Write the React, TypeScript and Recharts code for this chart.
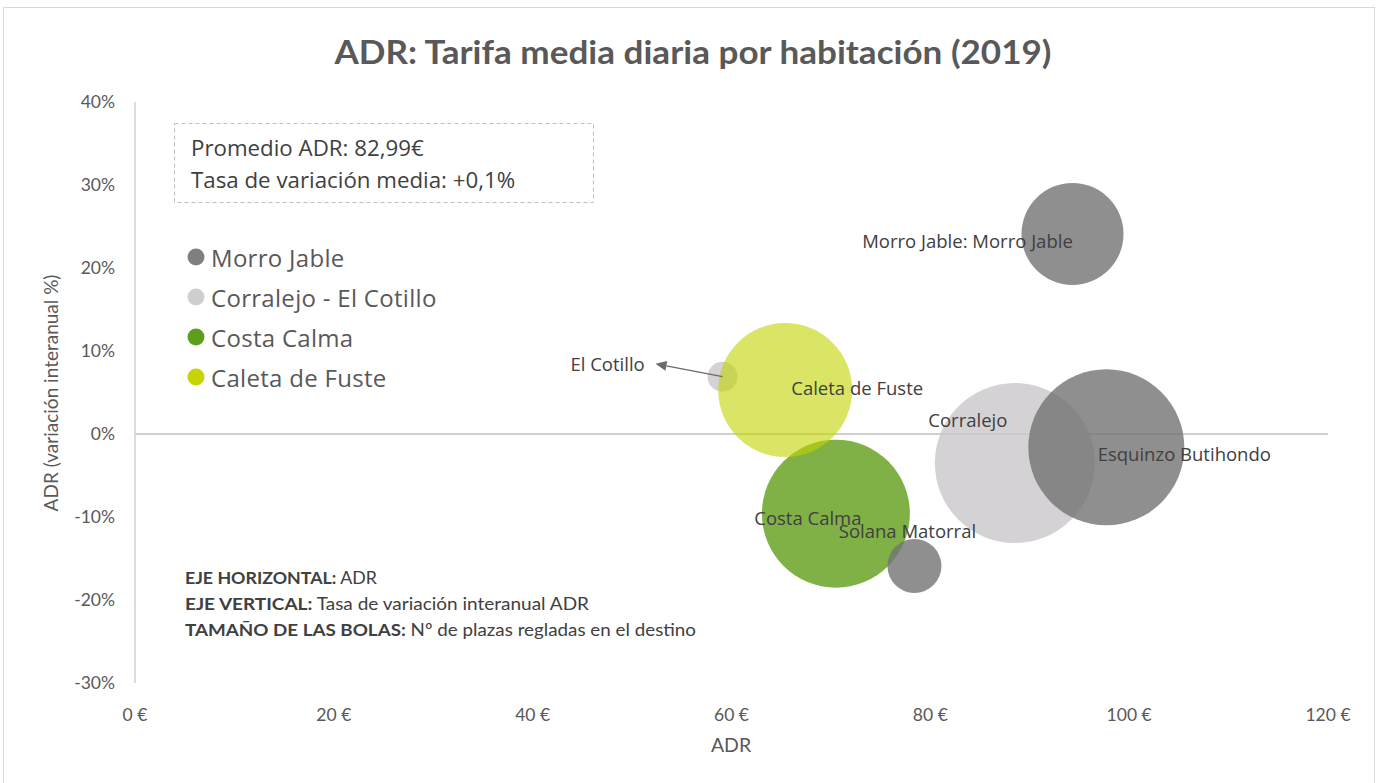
import React from 'react';
import { ScatterChart, Scatter, XAxis, YAxis, ZAxis, ReferenceLine } from 'recharts';

// ---- Data ----
const morroNames = ['Morro Jable', 'Esquinzo Butihondo', 'Solana Matorral'];
const morroLabels = ['Morro Jable: Morro Jable', 'Esquinzo Butihondo', 'Solana Matorral'];
const morroADR = [94.3, 97.7, 78.4];
const morroVar = [24.1, -1.6, -15.9];
const morroPlazas = [8130, 19010, 2280];

const corralejoNames = ['Corralejo', 'El Cotillo'];
const corralejoLabels = ['Corralejo', 'El Cotillo'];
const corralejoADR = [88.5, 59.1];
const corralejoVar = [-3.5, 6.9];
const corralejoPlazas = [20000, 700];

const costaNames = ['Costa Calma'];
const costaLabels = ['Costa Calma'];
const costaADR = [70.5];
const costaVar = [-9.6];
const costaPlazas = [17110];

const caletaNames = ['Caleta de Fuste'];
const caletaLabels = ['Caleta de Fuste'];
const caletaADR = [65.4];
const caletaVar = [5.3];
const caletaPlazas = [14030];

const legendNames = ['Morro Jable', 'Corralejo - El Cotillo', 'Costa Calma', 'Caleta de Fuste'];
const xTicks = [0, 20, 40, 60, 80, 100, 120];
const yTicks = [-30, -20, -10, 0, 10, 20, 30, 40];

const title = 'ADR: Tarifa media diaria por habitación (2019)';
const boxLines = ['Promedio ADR: 82,99€', 'Tasa de variación media: +0,1%'];
const notes = [
  ['EJE HORIZONTAL:', ' ADR'],
  ['EJE VERTICAL:', ' Tasa de variación interanual ADR'],
  ['TAMAÑO DE LAS BOLAS:', ' Nº de plazas regladas en el destino'],
];

// ---- build rows ----
const build = (names: string[], labels: string[], xs: number[], ys: number[], zs: number[]) =>
  names.map((n, i) => ({ name: n, label: labels[i], x: xs[i], y: ys[i], z: zs[i] }));

const morroData = build(morroNames, morroLabels, morroADR, morroVar, morroPlazas);
const corralejoData = build(corralejoNames, corralejoLabels, corralejoADR, corralejoVar, corralejoPlazas);
const costaData = build(costaNames, costaLabels, costaADR, costaVar, costaPlazas);
const caletaData = build(caletaNames, caletaLabels, caletaADR, caletaVar, caletaPlazas);
const allData = [...morroData, ...corralejoData, ...costaData, ...caletaData];

// ---- styles ----
const labelOffsets: Record<string, { dx: number; dy: number; arrowTo?: number }> = {
  'Morro Jable': { dx: -105, dy: 7 },
  'Esquinzo Butihondo': { dx: 78, dy: 6 },
  'Solana Matorral': { dx: -7, dy: -35 },
  'Corralejo': { dx: -47, dy: -44 },
  'El Cotillo': { dx: -115, dy: -13, arrowTo: -67 },
  'Costa Calma': { dx: -28, dy: 4 },
  'Caleta de Fuste': { dx: 72, dy: -3 },
};
const noteWidths = [192, 404, 511];

const seriesStyle = {
  morro: { fill: '#737373', opacity: 0.8 },
  corralejo: { fill: '#c9c7ca', opacity: 0.8 },
  costa: { fill: '#56970a', opacity: 0.75 },
  caleta: { fill: '#c1d400', opacity: 0.6 },
};
const legendColors = ['#7f7f7f', '#d0cfcf', '#5e9e1f', '#c8d400'];

const FONT = 'Lato, "Open Sans", sans-serif';
const FONT2 = '"Open Sans", "Noto Sans", sans-serif';
const TEXT = '#595959';

const bubble = (style: { fill: string; opacity: number }) => (p: any) => {
  const r = p.width ? p.width / 2 : Math.sqrt((p.size || 0) / Math.PI);
  return <circle cx={p.cx} cy={p.cy} r={r} fill={style.fill} fillOpacity={style.opacity} />;
};

const labelShape = (p: any) => {
  const name = p.payload?.name;
  const off = labelOffsets[name] || { dx: 0, dy: 0 };
  const tx = p.cx + off.dx;
  const ty = p.cy + off.dy;
  let arrow = null;
  if (off.arrowTo !== undefined) {
    const ax = p.cx + off.arrowTo;
    const ay = ty;
    const ang = Math.atan2(ay - p.cy, ax - p.cx);
    const L = 11, W = 5;
    const bx = ax - L * Math.cos(ang);
    const by = ay - L * Math.sin(ang);
    const px = -Math.sin(ang) * W, py = Math.cos(ang) * W;
    arrow = (
      <g>
        <line x1={p.cx} y1={p.cy} x2={bx} y2={by} stroke="#6f6a6a" strokeWidth={1.3} />
        <polygon points={`${ax},${ay} ${bx + px},${by + py} ${bx - px},${by - py}`} fill="#6f6a6a" />
      </g>
    );
  }
  return (
    <g>
      {arrow}
      <text x={tx} y={ty} textAnchor="middle" dominantBaseline="central" fontFamily={FONT2} fontSize={18.5} fill="#404040">
        {p.payload?.label}
      </text>
    </g>
  );
};

export default function App() {
  return (
    <div style={{ position: 'absolute', left: 0, top: 0, width: 1381, height: 783, background: '#fff', overflow: 'hidden' }}>
      <div style={{ position: 'absolute', left: 3, top: 7, width: 1372, height: 800, border: '1px solid #d9d9d9', boxSizing: 'border-box' }} />
      <div style={{ position: 'absolute', left: 0, top: 0 }}>
        <ScatterChart width={1381} height={783} margin={{ top: 102, right: 53, bottom: 40, left: 75 }}>
          <XAxis
            type="number"
            dataKey="x"
            domain={[0, 120]}
            ticks={xTicks}
            tickFormatter={(v: number) => `${v} €`}
            axisLine={false}
            tickLine={false}
            tickSize={0}
            tickMargin={26}
            height={60}
            tick={{ fill: TEXT, fontSize: 17.5, fontFamily: FONT }}
            allowDataOverflow
          />
          <YAxis
            type="number"
            dataKey="y"
            domain={[-30, 40]}
            ticks={yTicks}
            tickFormatter={(v: number) => `${v}%`}
            axisLine={{ stroke: '#d0d0d0', strokeWidth: 1.5 }}
            tickLine={false}
            tickSize={0}
            tickMargin={20}
            width={60}
            tick={{ fill: TEXT, fontSize: 17.5, fontFamily: FONT }}
            allowDataOverflow
          />
          <ZAxis type="number" dataKey="z" domain={[0, 20000]} range={[0, Math.PI * 80 * 80]} />
          <ReferenceLine y={0} stroke="#bfbfbf" strokeWidth={1.5} />
          <Scatter name="Corralejo - El Cotillo" data={corralejoData} shape={bubble(seriesStyle.corralejo)} isAnimationActive={false} />
          <Scatter name="Costa Calma" data={costaData} shape={bubble(seriesStyle.costa)} isAnimationActive={false} />
          <Scatter name="Caleta de Fuste" data={caletaData} shape={bubble(seriesStyle.caleta)} isAnimationActive={false} />
          <Scatter name="Morro Jable" data={morroData} shape={bubble(seriesStyle.morro)} isAnimationActive={false} />
          <Scatter name="labels" data={allData} shape={labelShape} isAnimationActive={false} legendType="none" />
        </ScatterChart>
      </div>
      <svg width={1381} height={783} style={{ position: 'absolute', left: 0, top: 0, pointerEvents: 'none' }}>
        <text x={693} y={64} textAnchor="middle" fontFamily={FONT} fontWeight={700} fontSize={32} fill={TEXT} textLength={717} lengthAdjust="spacingAndGlyphs">
          {title}
        </text>
        <rect x={174.5} y={123.5} width={419} height={79} fill="none" stroke="#bfbfbf" strokeDasharray="4 3" />
        {boxLines.map((t, i) => (
          <text key={t} x={191} y={156 + i * 32} fontFamily={FONT2} fontSize={22.3} fill="#404040">{t}</text>
        ))}
        {legendNames.map((n, i) => (
          <g key={n}>
            <circle cx={196} cy={257 + i * 40} r={8.5} fill={legendColors[i]} />
            <text x={211} y={257 + i * 40} dominantBaseline="central" fontFamily={FONT2} fontSize={24} letterSpacing={0.3} fill={TEXT}>{n}</text>
          </g>
        ))}
        {notes.map((n, i) => (
          <text key={n[0]} x={185} y={584 + i * 26} fontFamily={FONT} fontSize={17.5} fill="#404040" textLength={noteWidths[i]} lengthAdjust="spacingAndGlyphs">
            <tspan fontWeight={700}>{n[0]}</tspan>
            <tspan>{n[1]}</tspan>
          </text>
        ))}
        <text x={731} y={752} textAnchor="middle" fontFamily={FONT} fontSize={19.5} fill={TEXT}>ADR</text>
        <text transform="translate(58,393) rotate(-90)" textAnchor="middle" fontFamily={FONT} fontSize={19} fill={TEXT}>ADR (variación interanual %)</text>
      </svg>
    </div>
  );
}
